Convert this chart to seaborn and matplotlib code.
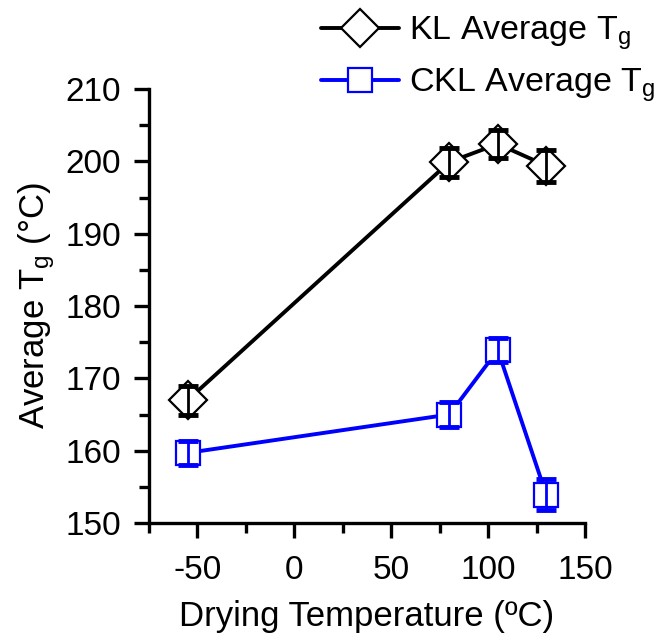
import matplotlib
matplotlib.use("Agg")
import matplotlib.pyplot as plt
import seaborn as sns
import pandas as pd
from matplotlib.ticker import MultipleLocator

drying_temp = [-55, 80, 105, 130]
kl_tg = [167.0, 199.9, 202.4, 199.4]
kl_err = [2.0, 2.0, 1.9, 2.2]
ckl_tg = [159.7, 165.0, 173.9, 153.9]
ckl_err = [1.7, 1.7, 1.7, 2.15]
series_names = ["KL Average T$_g$", "CKL Average T$_g$"]

sns.set_theme(style="ticks")
plt.rcParams['font.family'] = ['Liberation Sans', 'DejaVu Sans']
plt.rcParams['mathtext.fontset'] = 'custom'
plt.rcParams['mathtext.rm'] = 'Liberation Sans'
plt.rcParams['mathtext.it'] = 'Liberation Sans'
plt.rcParams['axes.unicode_minus'] = False
plt.rcParams['text.color'] = 'black'
plt.rcParams['axes.labelcolor'] = 'black'

fig = plt.figure(figsize=(6.68, 6.36), dpi=100)
ax = fig.add_axes([149/668, 1-523/636, (585-149)/668, (523-89)/636])

df_kl = pd.DataFrame({"x": drying_temp, "y": kl_tg})
df_ckl = pd.DataFrame({"x": drying_temp, "y": ckl_tg})

sns.lineplot(data=df_kl, x="x", y="y", ax=ax, color="black", lw=2.8,
             marker="D", markersize=19, markerfacecolor="white",
             markeredgecolor="black", markeredgewidth=1.6, label=series_names[0], zorder=3)
sns.lineplot(data=df_ckl, x="x", y="y", ax=ax, color="#0000ff", lw=2.8,
             marker="s", markersize=17, markerfacecolor="white",
             markeredgecolor="#0000ff", markeredgewidth=1.6, label=series_names[1], zorder=3)

ax.errorbar(drying_temp, kl_tg, yerr=kl_err, fmt="none", ecolor="black",
            elinewidth=2, capsize=7, capthick=3.5, zorder=4)
ax.errorbar(drying_temp, ckl_tg, yerr=ckl_err, fmt="none", ecolor="#0000ff",
            elinewidth=2, capsize=7, capthick=3.5, zorder=4)

ax.set_xlim(-75, 150)
ax.set_ylim(150, 210)
ax.xaxis.set_major_locator(MultipleLocator(50))
ax.xaxis.set_minor_locator(MultipleLocator(25))
ax.yaxis.set_major_locator(MultipleLocator(10))
ax.yaxis.set_minor_locator(MultipleLocator(5))
ax.tick_params(which="major", direction="out", length=11, width=2.4, labelsize=24, colors="black", pad=9)
ax.tick_params(which="minor", direction="out", length=7, width=2.4, colors="black")
ax.tick_params(axis="x", which="major", pad=12)
for s in ["top", "right"]:
    ax.spines[s].set_visible(False)
for s in ["left", "bottom"]:
    ax.spines[s].set_linewidth(2.4)
    ax.spines[s].set_color("black")

ax.set_xlabel("Drying Temperature (ºC)", fontsize=25, labelpad=10)
ax.set_ylabel("Average T$_g$ (°C)", fontsize=25, labelpad=6)

ax.get_legend().remove()
handles, labels = ax.get_legend_handles_labels()
fig.legend(handles[:2], labels[:2], loc="upper left", bbox_to_anchor=(307/668, 0.998),
           frameon=False, fontsize=24.5, handlelength=2.3, handletextpad=0.3,
           labelspacing=0.42, borderaxespad=0.0)

fig.savefig("out.png", dpi=100)
